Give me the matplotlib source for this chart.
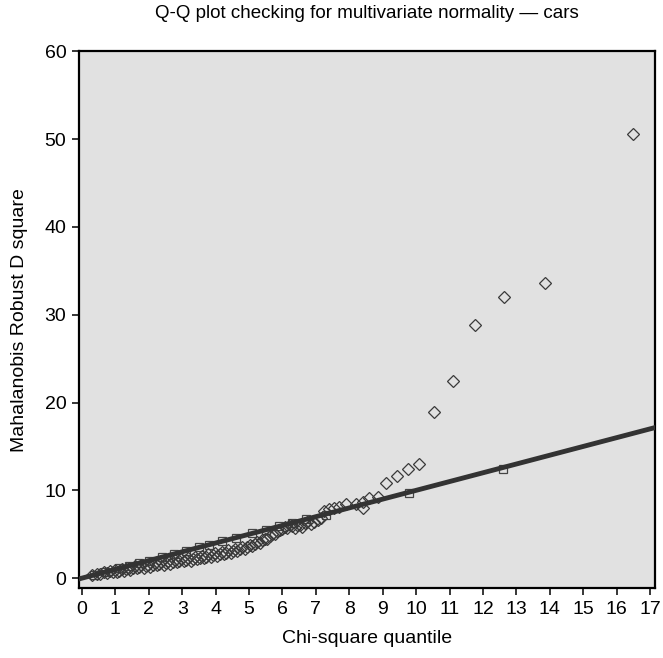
import numpy as np
import matplotlib as mpl
import matplotlib.pyplot as plt

plt.rcParams['font.family'] = ['Liberation Sans', 'DejaVu Sans']

# chi-square quantile vs robust mahalanobis D^2
chi_q = [0.30, 0.45, 0.55, 0.65, 0.75, 0.85, 0.92, 1.00, 1.05, 1.12,
         1.20, 1.25, 1.32, 1.40, 1.45, 1.52, 1.58, 1.65, 1.72, 1.78,
         1.85, 1.92, 1.98, 2.05, 2.12, 2.18, 2.25, 2.32, 2.38, 2.45,
         2.52, 2.58, 2.65, 2.72, 2.78, 2.85, 2.92, 2.98, 3.05, 3.12,
         3.18, 3.25, 3.32, 3.38, 3.45, 3.52, 3.58, 3.65, 3.72, 3.78,
         3.85, 3.92, 3.98, 4.05, 4.12, 4.18, 4.25, 4.32, 4.38, 4.45,
         4.52, 4.58, 4.65, 4.72, 4.80, 4.88, 4.95, 5.02, 5.10, 5.18,
         5.25, 5.32, 5.40, 5.48, 5.55, 5.62, 5.70, 5.78, 5.85, 5.92,
         6.00, 6.08, 6.15, 6.22, 6.30, 6.38, 6.45, 6.52, 6.60, 6.68,
         6.75, 6.85, 6.95, 7.05, 7.15, 7.25, 7.40, 7.55, 7.70, 7.90,
         8.20, 8.40, 8.42, 8.60, 8.85, 9.10, 9.44, 9.77, 10.10, 10.55,
         11.10, 11.75, 12.62, 13.85, 16.49]
d_sq = [0.35, 0.50, 0.45, 0.70, 0.55, 0.80, 0.70, 0.95, 0.65, 0.85,
        1.05, 0.80, 1.00, 1.20, 0.95, 1.15, 1.35, 1.10, 1.30, 1.45,
        1.20, 1.40, 1.55, 1.30, 1.50, 1.70, 1.45, 1.60, 1.80, 1.55,
        1.75, 1.95, 1.65, 1.85, 2.05, 1.80, 1.95, 2.20, 1.90, 2.05,
        2.30, 2.00, 2.20, 2.40, 2.15, 2.30, 2.55, 2.25, 2.45, 2.70,
        2.40, 2.60, 2.85, 2.55, 2.75, 3.00, 2.70, 2.90, 3.15, 2.90,
        3.10, 3.35, 3.10, 3.30, 3.55, 3.35, 3.55, 3.80, 3.65, 3.90,
        4.10, 4.00, 4.30, 4.50, 4.45, 4.75, 5.00, 5.05, 5.35, 5.50,
        5.60, 5.85, 5.70, 6.00, 5.90, 5.75, 6.10, 6.05, 5.85, 6.25,
        6.35, 6.20, 6.45, 6.60, 6.80, 7.70, 7.90, 8.00, 8.10, 8.40,
        8.40, 8.70, 8.00, 9.10, 9.20, 10.80, 11.60, 12.40, 13.00, 18.90,
        22.40, 28.80, 32.00, 33.60, 50.60]

# square markers sitting on the reference line
sq_q = [0.35, 0.70, 1.10, 1.40, 1.70, 2.00, 2.40, 2.75, 3.10, 3.50,
        3.80, 4.20, 4.60, 5.10, 5.50, 5.90, 6.30, 6.70, 7.30, 9.80, 12.60]
sq_d = [0.35, 0.70, 1.10, 1.40, 1.70, 2.00, 2.40, 2.75, 3.10, 3.50,
        3.80, 4.20, 4.60, 5.10, 5.50, 5.90, 6.30, 6.70, 7.20, 9.65, 12.45]

# reference line y = x
line_q = [-0.2, 17.3]
line_d = [-0.2, 17.3]

fig = plt.figure(figsize=(6.63, 6.58), dpi=100)
ax = fig.add_axes([0.119, 0.106, 0.869, 0.816])

ax.set_facecolor('#e1e1e1')
ax.plot(sq_q, sq_d, linestyle='none', marker='s', ms=6, mfc='none',
        mec='#444444', mew=0.9, zorder=2)
ax.plot(chi_q, d_sq, linestyle='none', marker='D', ms=6, mfc='none',
        mec='#3a3a3a', mew=0.9, zorder=3)
ax.plot(line_q, line_d, color='#333333', lw=3.5, zorder=4)

ax.set_xlim(-0.09, 17.15)
ax.set_ylim(-1.15, 60)
ax.set_xticks(range(0, 18))
ax.set_yticks(range(0, 61, 10))

for s in ax.spines.values():
    s.set_linewidth(1.6)
ax.tick_params(direction='out', length=5, width=1.1, labelsize=14, pad=4)

ax.set_xlabel('Chi-square quantile', fontsize=14, labelpad=9)
ax.set_ylabel('Mahalanobis Robust D square', fontsize=14, labelpad=12)
ax.set_title('Q-Q plot checking for multivariate normality \u2014 cars',
             fontsize=13.5, pad=24)

plt.savefig('out.png')
